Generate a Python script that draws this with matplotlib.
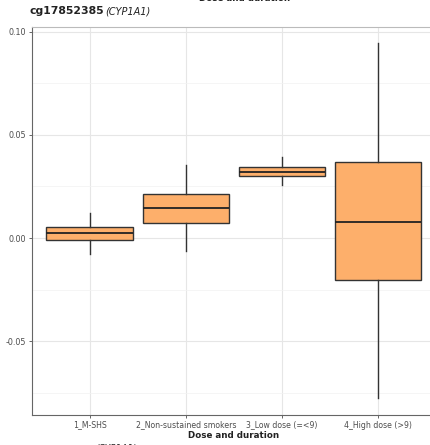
import matplotlib
matplotlib.use("Agg")
import matplotlib.pyplot as plt

# Box summaries per exposure group
groups = ["1_M-SHS", "2_Non-sustained smokers", "3_Low dose (=<9)", "4_High dose (>9)"]
whislo = [-0.0078, -0.0063, 0.0257, -0.0777]
q1 = [-0.0010, 0.0073, 0.0301, -0.0204]
med = [0.0024, 0.0146, 0.0322, 0.0078]
q3 = [0.0053, 0.0214, 0.0346, 0.0367]
whishi = [0.0121, 0.0354, 0.0392, 0.0945]
yticks = [-0.05, 0.00, 0.05, 0.10]
ytick_labels = ["-0.05", "0.00", "0.05", "0.10"]

fig = plt.figure(figsize=(4.31, 4.45), dpi=100)
ax = fig.add_axes([0.0742, 0.0674, 0.937, 0.8719])

stats = []
for i, g in enumerate(groups):
    stats.append(dict(label=g, whislo=whislo[i], q1=q1[i], med=med[i],
                      q3=q3[i], whishi=whishi[i], fliers=[]))

positions = list(range(1, len(groups) + 1))
ax.bxp(stats, positions=positions, widths=0.9, patch_artist=True, showcaps=False,
       boxprops=dict(facecolor="#FDAF6B", edgecolor="#333333", linewidth=1.0),
       medianprops=dict(color="#222222", linewidth=1.3),
       whiskerprops=dict(color="#333333", linewidth=1.0),
       zorder=3)

ax.set_xlim(0.4, 4.6)
ax.set_ylim(-0.0859, 0.1024)

ax.set_yticks(yticks)
ax.set_yticklabels(ytick_labels)
ax.set_yticks([-0.075, -0.025, 0.025, 0.075], minor=True)
ax.set_xticks(positions)
ax.set_xticklabels(groups)

ax.grid(True, which="major", color="#E6E6E6", linewidth=0.8, zorder=0)
ax.grid(True, which="minor", axis="y", color="#F2F2F2", linewidth=0.5, zorder=0)
ax.set_axisbelow(True)

ax.tick_params(axis="x", which="major", labelsize=5.6, colors="#4D4D4D",
               length=2.5, width=0.6, pad=1.5)
ax.tick_params(axis="y", which="major", labelsize=5.8, colors="#4D4D4D",
               length=2.5, width=0.6, pad=1.5)
ax.tick_params(axis="y", which="minor", length=0)

ax.spines["right"].set_visible(False)
ax.spines["top"].set_color("#BBBBBB")
ax.spines["top"].set_linewidth(0.8)
for side in ["left", "bottom"]:
    ax.spines[side].set_color("#666666")
    ax.spines[side].set_linewidth(0.8)

ax.set_xlabel("Dose and duration", fontsize=6.3, fontweight="bold", color="#222222",
              labelpad=1.0)

# Panel title: probe id with gene name in italics
fig.text(30 / 431, 1 - 14 / 445, "cg17852385", fontsize=7.8, fontweight="bold",
         color="#222222", va="baseline", ha="left")
fig.text(105 / 431, 1 - 14 / 445, "(CYP1A1)", fontsize=7, style="italic",
         color="#222222", va="baseline", ha="left")

# Neighbouring panel labels clipped at the figure edges
fig.text(245 / 431, 1 + 1.5 / 445, "Dose and duration", fontsize=6.3, fontweight="bold",
         color="#222222", va="center", ha="center")
fig.text(95 / 431, 1 - 448 / 445, "(CYP1A1)", fontsize=6.5, style="italic",
         color="#222222", va="center", ha="left")

fig.savefig("out.png", dpi=100)
